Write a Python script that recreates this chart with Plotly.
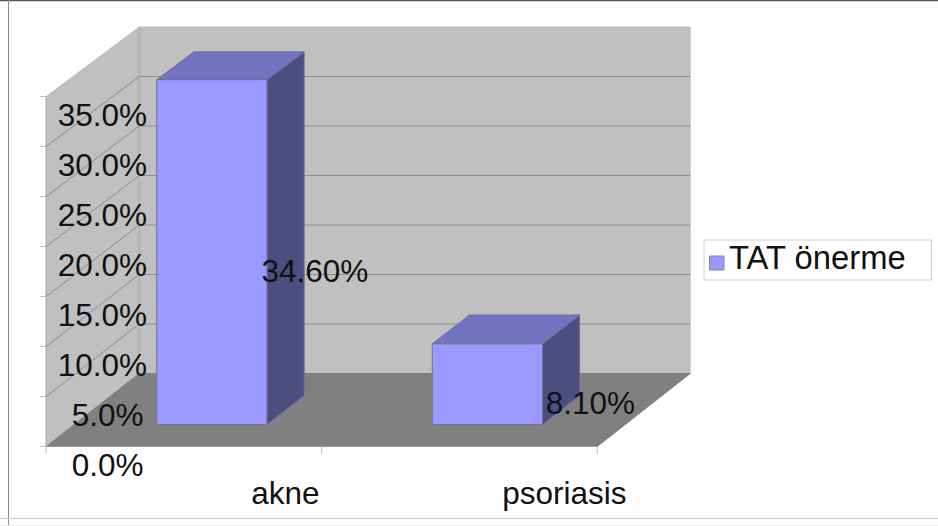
import plotly.graph_objects as go

# Chart data
categories = ["akne", "psoriasis"]
values = [34.6, 8.1]
value_labels = ["34.60%", "8.10%"]
tick_values = [0, 5, 10, 15, 20, 25, 30, 35]
tick_labels = ["0.0%", "5.0%", "10.0%", "15.0%", "20.0%", "25.0%", "30.0%", "35.0%"]
series_name = "TAT önerme"

# Page and plot scale, in pixels
WIDTH, HEIGHT = 938, 526
X0, Y0 = 46.2, 446.5      # where category 0 / value 0 sit on the page
PX_PER_CATEGORY = 275.5
PX_PER_PERCENT = 10
DEPTH_DX, DEPTH_DY = 93, 73  # oblique offset of the full chart depth
DEPTH_SHRINK = 0.01          # slight foreshortening of values towards the back wall
BAR_HALF_WIDTH = 0.2
BAR_DEPTH = (0.3, 0.7)
TOP_VALUE = 35

FONT = "Liberation Sans, Arial, sans-serif"
FONT_SIZE = 31.5
TEXT_COLOR = "#111111"
WALL = "#C0C0C0"
FLOOR = "#808080"
GRID = "#8E8E8E"
TICK = "#BDBDBD"
FRONT = "#9999FF"
TOP = "#7373BF"
SIDE = "#4D4D80"
EDGE = "#70709A"


def project(cat, val, depth=0.0):
    """Oblique projection of (category, value, depth) onto the axis plane."""
    return (cat + depth * DEPTH_DX / PX_PER_CATEGORY,
            val * (1 - DEPTH_SHRINK * depth) + depth * DEPTH_DY / PX_PER_PERCENT)


def px_x(px):
    return (px - X0) / PX_PER_CATEGORY


def px_y(px):
    return (Y0 - px) / PX_PER_PERCENT


def polygon(points, fill, line=None):
    xs, ys = zip(*[project(*p) for p in points + points[:1]])
    return go.Scatter(
        x=xs, y=ys, mode="lines", fill="toself", fillcolor=fill,
        line=dict(color=line or fill, width=1), hoverinfo="skip", showlegend=False,
    )


def polyline(points, color, width=1):
    xs, ys = zip(*[project(*p) for p in points])
    return go.Scatter(x=xs, y=ys, mode="lines", line=dict(color=color, width=width),
                      hoverinfo="skip", showlegend=False)


def text_trace(xs, ys, labels, position, size=FONT_SIZE):
    return go.Scatter(
        x=xs, y=ys, text=labels, mode="text", textposition=position,
        textfont=dict(family=FONT, size=size, color=TEXT_COLOR),
        hoverinfo="skip", showlegend=False,
    )


n = len(categories)
fig = go.Figure()

# Back wall, side wall and floor
fig.add_trace(polygon([(0, 0, 1), (n, 0, 1), (n, TOP_VALUE, 1), (0, TOP_VALUE, 1)], WALL))
fig.add_trace(polygon([(0, 0, 0), (0, 0, 1), (0, TOP_VALUE, 1), (0, TOP_VALUE, 0)], WALL))
fig.add_trace(polygon([(0, 0, 0), (n, 0, 0), (n, 0, 1), (0, 0, 1)], FLOOR))

# Gridlines run along the side wall and across the back wall
for v in tick_values[1:-1]:
    fig.add_trace(polyline([(0, v, 0), (0, v, 1), (n, v, 1)], GRID))
fig.add_trace(polyline([(0, 0, 1), (0, TOP_VALUE, 1)], "#A8A8A8"))
fig.add_trace(polyline([(0, 0, 0), (0, TOP_VALUE, 0)], "#A8A8A8"))
fig.add_trace(polyline([(0, 0, 0), (n, 0, 0)], "#9A9A9A"))

# Axis tick marks
tick_len_cat = 6 / PX_PER_CATEGORY
for v in tick_values:
    fig.add_trace(polyline([(-tick_len_cat, v), (0, v)], TICK))
for c in range(n + 1):
    fig.add_trace(polyline([(c, 0), (c, -0.7)], TICK))

# Bars, each drawn as three visible faces
d0, d1 = BAR_DEPTH
for i, v in enumerate(values):
    left = i + 0.5 - BAR_HALF_WIDTH
    right = i + 0.5 + BAR_HALF_WIDTH
    fig.add_trace(polygon([(right, 0, d0), (right, 0, d1), (right, v, d1), (right, v, d0)], SIDE, EDGE))
    fig.add_trace(polygon([(left, v, d0), (right, v, d0), (right, v, d1), (left, v, d1)], TOP, EDGE))
    fig.add_trace(polygon([(left, 0, d0), (right, 0, d0), (right, v, d0), (left, v, d0)], FRONT, EDGE))

# Value axis labels sit below and to the right of their ticks
fig.add_trace(text_trace(
    [px_x(143.5 if v < 10 else 147) for v in tick_values],
    [v - 2.2 for v in tick_values],
    tick_labels, "middle left",
))

# Category labels
category_shift = [101.5, 105]
fig.add_trace(text_trace(
    [i + 0.5 + category_shift[i] / PX_PER_CATEGORY for i in range(n)],
    [px_y(496)] * n,
    categories, "middle center",
))

# Value labels beside each bar
fig.add_trace(text_trace(
    [project(i + 0.5 + BAR_HALF_WIDTH, 0, d0)[0] + 48 / PX_PER_CATEGORY for i in range(n)],
    [project(0, v / 2 - 2.2, d0)[1] for v in values],
    value_labels, "middle center",
))

# Legend box with its colour swatch
shapes = [
    dict(type="rect", xref="x", yref="y", x0=px_x(704), x1=px_x(931.5), y0=px_y(240), y1=px_y(280),
         line=dict(color="#CFCFCF", width=1), fillcolor="white", layer="below"),
    dict(type="rect", xref="x", yref="y", x0=px_x(709.5), x1=px_x(724), y0=px_y(256), y1=px_y(270),
         line=dict(color="#8080C8", width=1), fillcolor=FRONT),
    # Frame of the surrounding page
    dict(type="line", xref="x", yref="y", x0=px_x(0), x1=px_x(938), y0=px_y(0.5), y1=px_y(0.5),
         line=dict(color="#555555", width=1.5)),
    dict(type="line", xref="x", yref="y", x0=px_x(8.5), x1=px_x(8.5), y0=px_y(0), y1=px_y(526),
         line=dict(color="#8A8A8A", width=1)),
    dict(type="line", xref="x", yref="y", x0=px_x(0), x1=px_x(938), y0=px_y(518.5), y1=px_y(518.5),
         line=dict(color="#C8C8C8", width=1)),
    dict(type="line", xref="x", yref="y", x0=px_x(0), x1=px_x(938), y0=px_y(525.5), y1=px_y(525.5),
         line=dict(color="#EEEEEE", width=1)),
]
fig.add_trace(text_trace([px_x(729)], [px_y(261)], [series_name], "middle right", size=32.8))

fig.update_layout(
    width=WIDTH, height=HEIGHT, autosize=False,
    margin=dict(l=0, r=0, t=0, b=0),
    paper_bgcolor="white", plot_bgcolor="white",
    showlegend=False, shapes=shapes,
    xaxis=dict(visible=False, fixedrange=True,
               range=[px_x(0), px_x(WIDTH)]),
    yaxis=dict(visible=False, fixedrange=True,
               range=[px_y(HEIGHT), px_y(0)]),
)

fig.write_html("out.html", config=dict(displayModeBar=False))
